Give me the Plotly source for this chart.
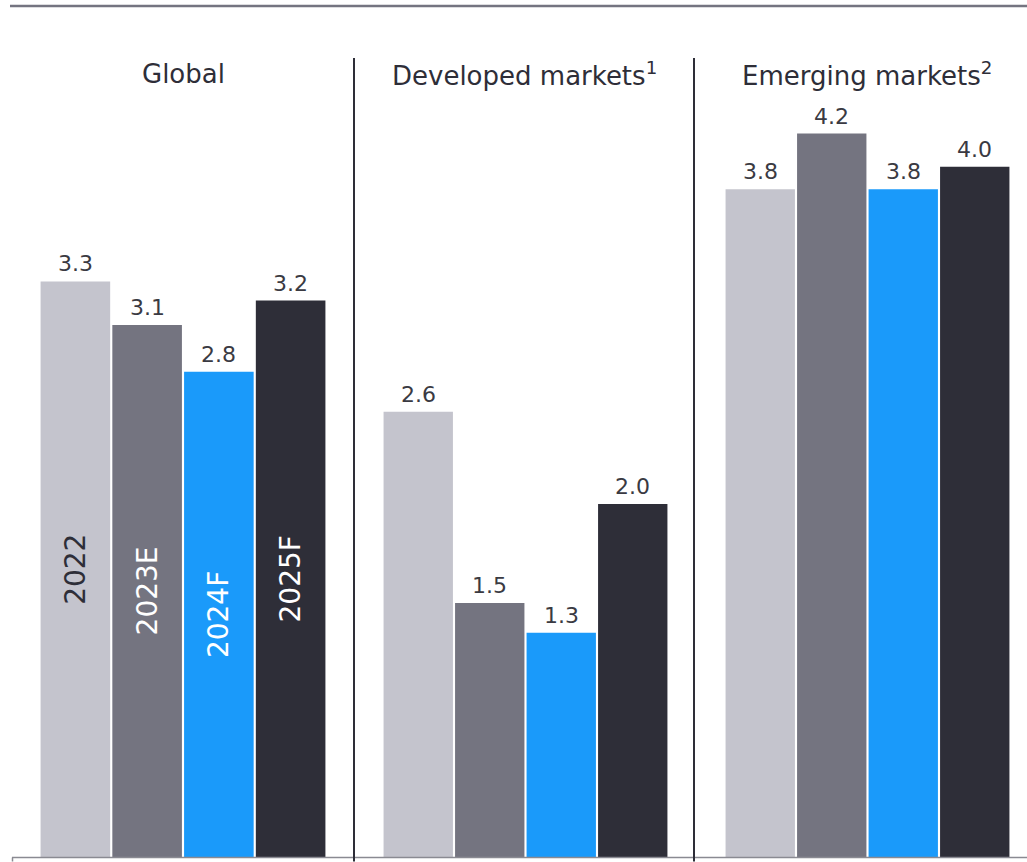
import plotly.graph_objects as go

# ---- data (bar heights; labels shown to 1 decimal) ----
panel_titles = ["Global", "Developed markets<sup>1</sup>", "Emerging markets<sup>2</sup>"]
years = ["2022", "2023E", "2024F", "2025F"]
global_vals = [3.31, 3.06, 2.79, 3.20]
developed_vals = [2.56, 1.46, 1.29, 2.03]
emerging_vals = [3.84, 4.16, 3.84, 3.97]
bar_colors = ["#C4C4CD", "#747480", "#1A9AFA", "#2E2E38"]
year_text_colors = ["#2E2E38", "#FFFFFF", "#FFFFFF", "#FFFFFF"]

# ---- layout geometry (pixels) ----
W, H = 1027, 862
T_MARGIN, B_MARGIN = 27, 4.5
PLOT_H = H - T_MARGIN - B_MARGIN
PX_PER_UNIT = 174.0
bands = [(39.5, 326.5), (382.5, 668.5), (724.5, 1010.5)]
title_cx = [183, 524, 867]
sep_x = [354, 694]
FONT = "DejaVu Sans"
DARK = "#2E2E38"


def px_x(x):
    return x / W


def px_y(y):
    return (H - B_MARGIN - y) / PLOT_H


series = [global_vals, developed_vals, emerging_vals]
fig = go.Figure()

for i, vals in enumerate(series):
    ax = "x" if i == 0 else f"x{i+1}"
    fig.add_trace(go.Bar(
        x=years, y=vals, xaxis=ax, yaxis="y",
        marker=dict(color=bar_colors, line=dict(width=0)),
        text=years if i == 0 else None,
        textposition="inside" if i == 0 else "none",
        insidetextanchor="middle",
        textangle=-90,
        insidetextfont=dict(family=FONT, size=28, color=year_text_colors),
        hoverinfo="skip",
        showlegend=False,
    ))
    for j, v in enumerate(vals):
        fig.add_annotation(
            x=j, y=v, xref=ax, yref="y",
            text=f"{v:.1f}", showarrow=False,
            yanchor="bottom", yshift=3,
            font=dict(family=FONT, size=22, color="#3A3A42"),
        )
    fig.add_annotation(
        x=px_x(title_cx[i]), y=px_y(74), xref="paper", yref="paper",
        text=panel_titles[i], showarrow=False,
        xanchor="center", yanchor="middle",
        font=dict(family=FONT, size=26, color=DARK),
    )

axis_common = dict(showgrid=False, zeroline=False, showline=False,
                   showticklabels=False, ticks="", fixedrange=True)
layout_axes = {}
for i, (a, b) in enumerate(bands):
    key = "xaxis" if i == 0 else f"xaxis{i+1}"
    layout_axes[key] = dict(type="category", domain=[px_x(a), px_x(b)], anchor="y",
                            categoryorder="array", categoryarray=years,
                            range=[-0.5, 3.5], **axis_common)

shapes = [
    # top rule
    dict(type="line", xref="paper", yref="paper", x0=px_x(10), x1=px_x(1027),
         y0=px_y(6), y1=px_y(6), line=dict(color="#747480", width=2.5)),
    # bottom axis line
    dict(type="line", xref="paper", yref="paper", x0=px_x(12), x1=px_x(1027),
         y0=px_y(858), y1=px_y(858), line=dict(color="#8A8A92", width=1.5)),
    dict(type="line", xref="paper", yref="paper", x0=px_x(12.5), x1=px_x(12.5),
         y0=px_y(858), y1=px_y(862), line=dict(color="#8A8A92", width=1.5)),
]
for sx in sep_x:
    shapes.append(dict(type="line", xref="paper", yref="paper",
                       x0=px_x(sx), x1=px_x(sx), y0=px_y(58), y1=px_y(862),
                       line=dict(color=DARK, width=2)))

fig.update_layout(
    width=W, height=H,
    margin=dict(l=0, r=0, t=T_MARGIN, b=B_MARGIN, pad=0),
    paper_bgcolor="white", plot_bgcolor="white",
    bargap=0.03,
    yaxis=dict(range=[0, PLOT_H / PX_PER_UNIT], domain=[0, 1], **axis_common),
    shapes=shapes,
    font=dict(family=FONT, color=DARK),
    uniformtext=dict(minsize=8, mode="show"),
    **layout_axes,
)

fig.write_html(
    "out.html",
    config={"displayModeBar": False},
    post_script="document.body.style.margin='0';document.body.style.overflow='hidden';",
)
